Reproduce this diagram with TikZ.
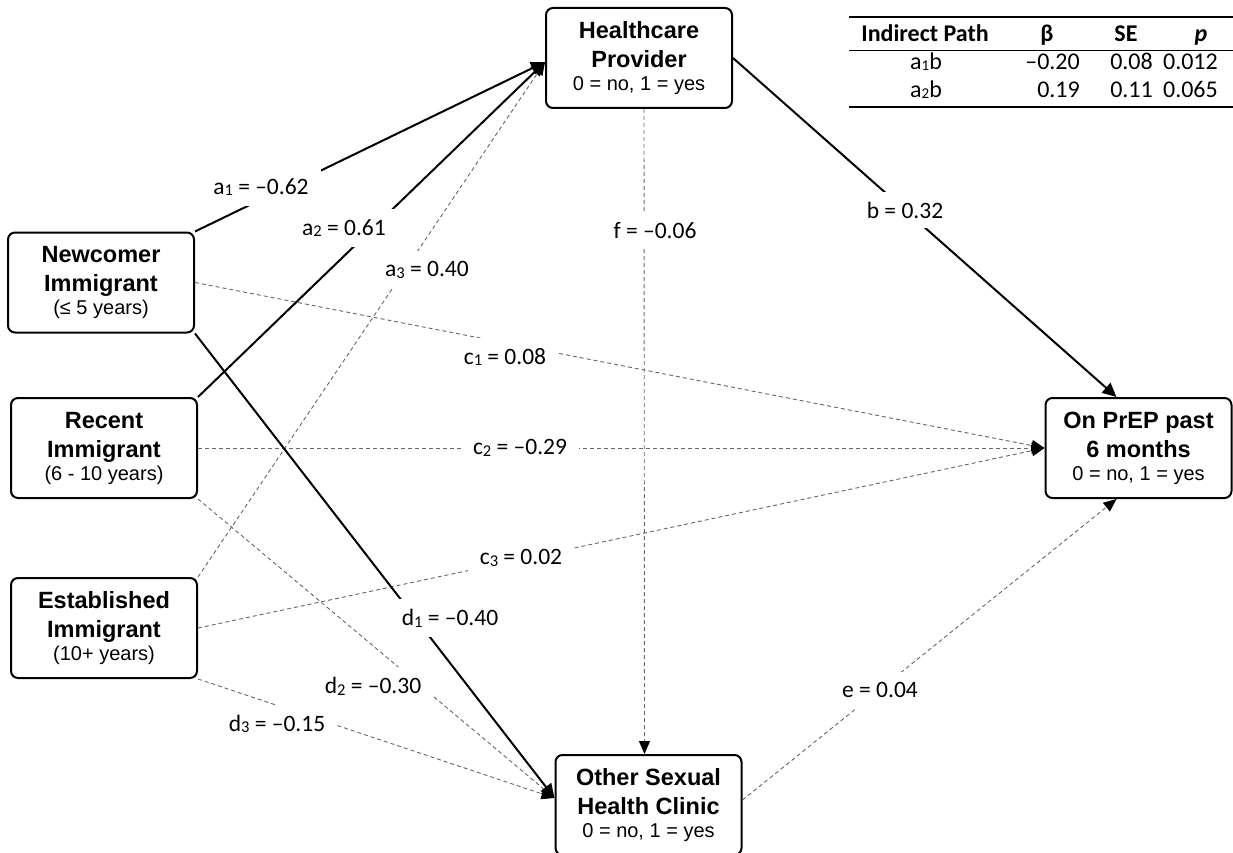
\documentclass[tikz,border=0pt]{standalone}
\usepackage{fontspec}
\setmainfont{Liberation Sans}
\newfontfamily\carl{Carlito}
\usetikzlibrary{arrows.meta,calc}

% second, lighter line inside a variable box
\newcommand\vsub[1]{\\[-6pt]{\mdseries\fontsize{20}{23}\selectfont #1}}
% index digits for the coefficient labels and the table
\newcommand\ix[1]{\raisebox{-1.7pt}{\fontsize{16.5}{17}\selectfont #1}}
\newcommand\tix[1]{\raisebox{-0.3pt}{\fontsize{15}{16}\selectfont #1}}

\tikzset{
  var/.style={draw, line width=2pt, rounded corners=7pt, fill=white,
    minimum width=186pt, minimum height=100pt, inner sep=0pt, align=center,
    font=\bfseries\fontsize{23.5}{29}\selectfont},
  solidpath/.style={line width=2pt, -{Triangle[length=14pt,width=13pt]}},
  dashpath/.style={line width=0.9pt, draw=black!60, dash pattern=on 4pt off 3pt,
    -{Triangle[length=13pt,width=11pt,color=black]}},
  coef/.style={fill=white, inner xsep=12pt, inner ysep=10pt,
    font=\carl\fontsize{23.5}{27}\selectfont},
  tab/.style={inner sep=0pt, anchor=base, font=\carl\fontsize{24}{28}\selectfont},
  tabnum/.style={tab, anchor=base east},
  tabhead/.style={tab, font=\carl\bfseries\fontsize{24}{28}\selectfont},
}

\begin{document}
\begin{tikzpicture}[x=1pt, y=-1pt]
\useasboundingbox (0,0) rectangle (1233,853);

% variables
\node[var] (hp)   at (639,58)    {Healthcare\\Provider\vsub{0 = no, 1 = yes}};
\node[var] (nc)   at (101,282.5) {Newcomer\\Immigrant\vsub{(≤ 5 years)}};
\node[var] (ri)   at (104,448)   {Recent\\Immigrant\vsub{(6 - 10 years)}};
\node[var] (ei)   at (104,628)   {Established\\Immigrant\vsub{(10+ years)}};
\node[var] (prep) at (1138.5,448){On PrEP past\\6 months\vsub{0 = no, 1 = yes}};
\node[var] (os)   at (648.5,805) {Other Sexual\\Health Clinic\vsub{0 = no, 1 = yes}};

% connector end points on the boxes
\coordinate (hpin) at ([yshift=-4pt]hp.west);
\coordinate (osin) at ([yshift=7pt]os.west);
\coordinate (bend) at ([xshift=-22pt]prep.north);
\coordinate (eend) at ([xshift=-22pt]prep.south);
\coordinate (eout) at ([yshift=5pt]os.east);
\coordinate (fs)   at ([xshift=5pt]hp.south);
\coordinate (fe)   at ([xshift=-4pt]os.north);

% paths into the healthcare provider
\draw[solidpath] (nc.north east) -- (hpin);
\draw[solidpath] (ri.north east) -- (hpin);
\draw[dashpath]  (ei.north east) -- (hpin);
% provider to outcome and to clinic
\draw[solidpath] (hp.east) -- (bend);
\draw[dashpath]  (fs) -- (fe);
% direct paths to the outcome
\draw[dashpath] (nc.east) -- (prep.west);
\draw[dashpath] (ri.east) -- (prep.west);
\draw[dashpath] (ei.east) -- (prep.west);
% paths into the clinic
\draw[solidpath] (nc.south east) -- (osin);
\draw[dashpath]  (ri.south east) -- (osin);
\draw[dashpath]  (ei.south east) -- (osin);
% clinic to outcome
\draw[dashpath] (eout) -- (eend);

% coefficients
\node[coef] (la1) at (261,187) {a\ix{1} = –0.62};
\node[coef] (la2) at (344,228) {a\ix{2} = 0.61};
\node[coef] (la3) at (427,270) {a\ix{3} = 0.40};
\node[coef] (lb)  at (905,210) {b = 0.32};
\node[coef] (lf)  at (655,231) {f = –0.06};
\node[coef] (lc1) at (505,357) {c\ix{1} = 0.08};
\node[coef] (lc2) at (520,448) {c\ix{2} = –0.29};
\node[coef] (lc3) at (521,558) {c\ix{3} = 0.02};
\node[coef] (ld1) at (450,618) {d\ix{1} = –0.40};
\node[coef] (ld2) at (373,686) {d\ix{2} = –0.30};
\node[coef] (ld3) at (277,724) {d\ix{3} = –0.15};
\node[coef] (le)  at (880,690) {e = 0.04};

% indirect effects table
\draw[line width=1.6pt] (849,17) -- (1233,17);
\draw[line width=0.8pt] (849,50) -- (1233,50);
\draw[line width=1.6pt] (849,107) -- (1233,107);
\node[tabhead] (th1) at (925,42)  {Indirect Path};
\node[tabhead] (th2) at (1047,42) {β};
\node[tabhead] (th3) at (1126,42) {SE};
\node[tabhead] (th4) at (1201,42) {\itshape p};
\node[tab] (r1a) at (926,70) {a\tix{1}b};
\node[tabnum] (r1b) at (1080,70) {–0.20};
\node[tabnum] (r1c) at (1153,70) {0.08};
\node[tabnum] (r1d) at (1218,70) {0.012};
\node[tab] (r2a) at (926,98) {a\tix{2}b};
\node[tabnum] (r2b) at (1080,98) {0.19};
\node[tabnum] (r2c) at (1153,98) {0.11};
\node[tabnum] (r2d) at (1218,98) {0.065};
\end{tikzpicture}
\end{document}
